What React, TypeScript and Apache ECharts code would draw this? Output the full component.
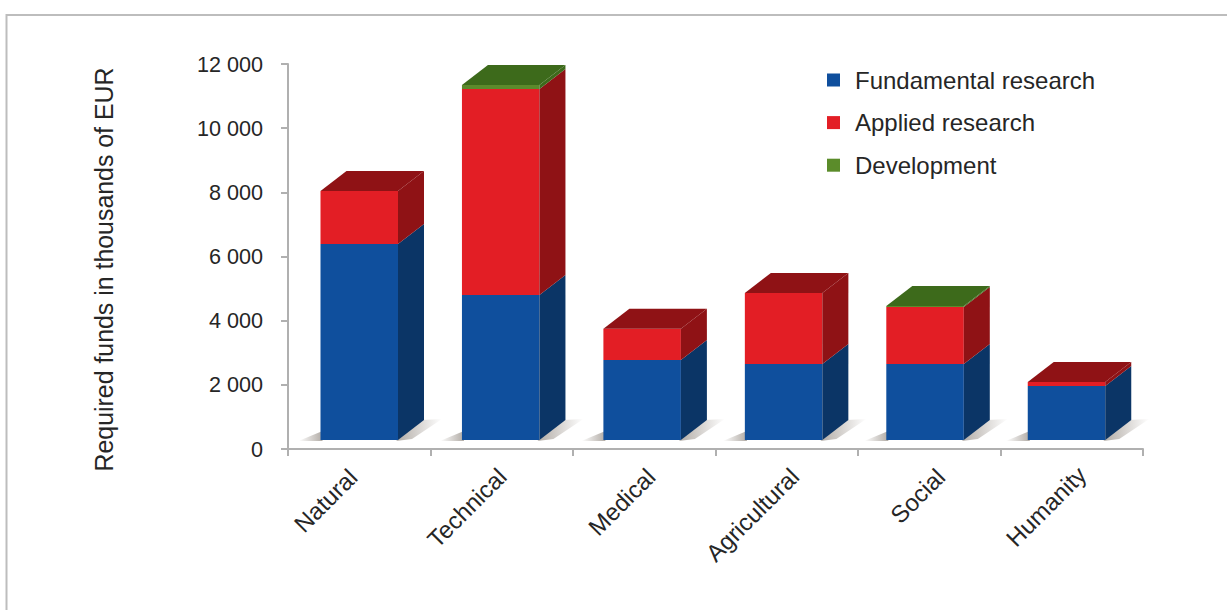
import React, { useEffect, useRef } from "react";
import * as echarts from "echarts";

const categories = ["Natural", "Technical", "Medical", "Agricultural", "Social", "Humanity"];
const fundamental = [6110, 4520, 2495, 2370, 2370, 1685];
const applied = [1650, 6420, 970, 2215, 1775, 125];
const development = [0, 125, 0, 0, 30, 0];
const seriesNames = ["Fundamental research", "Applied research", "Development"];
const yTicks = { min: 0, max: 12000, interval: 2000 };

const labelAlong = [-9.8, -4.5, -0.2, 0.85, 3, 3.65];
const labelLine = [2, 10.4, 19.6, 21, 26.6, 21.6];
const FRONT = ["#0f4f9d", "#e31e25", "#5c8a2c"];
const SIDE = ["#0b3566", "#8f1215", "#3d6a1b"];
const LEGEND = ["#0f4f9d", "#e31e25", "#5b8c2a"];
const BAR_W = 77.5;
const DX = 26;
const DY = 20;
const FLOOR = 9;
const DRIFT = 1.05;
const FONT = "Liberation Sans";
const TEXT = "#262626";

function buildData(values: number[], below: number[][], above: number[][]) {
  return values.map((v, i) => {
    const base = below.reduce((s, a) => s + a[i], 0);
    const isTop = above.every((a) => a[i] === 0) ? 1 : 0;
    return [i, base, base + v, isTop];
  });
}

function shadowFill(reverse: boolean) {
  const c0 = "rgba(125,115,105,0.6)";
  const c1 = "rgba(125,115,105,0)";
  return new echarts.graphic.LinearGradient(0, 0, 1, 0, [
    { offset: 0, color: reverse ? c1 : c0 },
    { offset: 1, color: reverse ? c0 : c1 },
  ]);
}

function makeRender(idx: number) {
  return (_p: any, api: any) => {
    const i = api.value(0);
    const [cx0, y0Raw] = api.coord([i, api.value(1)]);
    const [, y1Raw] = api.coord([i, api.value(2)]);
    const cx = cx0 - i * DRIFT;
    const isTop = api.value(3) === 1;
    const y0 = y0Raw - FLOOR;
    const y1 = y1Raw - FLOOR;
    const l = cx - BAR_W / 2;
    const r = cx + BAR_W / 2;
    const children: any[] = [];
    if (y0 - y1 <= 0) return { type: "group", children };
    if (idx === 0) {
      children.push(
        {
          type: "polygon",
          shape: { points: [[l - 22, y0 + 1], [l + 2, y0 + 1], [l + 2, y0 - 9]] },
          style: { fill: shadowFill(true) },
          silent: true,
        },
        {
          type: "polygon",
          shape: { points: [[r - 2, y0 + 1], [r + 14, y0 - 1], [r + DX + 18, y0 - DY - 1], [r + DX - 2, y0 - DY]] },
          style: { fill: shadowFill(false) },
          silent: true,
        }
      );
    }
    children.push(
      { type: "rect", shape: { x: l, y: y1, width: BAR_W, height: y0 - y1 }, style: { fill: FRONT[idx] } },
      {
        type: "polygon",
        shape: { points: [[r, y0], [r + DX, y0 - DY], [r + DX, y1 - DY], [r, y1]] },
        style: { fill: SIDE[idx] },
      }
    );
    if (isTop) {
      children.push({
        type: "polygon",
        shape: { points: [[l, y1], [l + DX, y1 - DY], [r + DX, y1 - DY], [r, y1]] },
        style: { fill: SIDE[idx] },
      });
    }
    return { type: "group", children };
  };
}

export default function App() {
  const ref = useRef<HTMLDivElement>(null);
  useEffect(() => {
    document.body.style.margin = "0";
    const chart = echarts.init(ref.current!, undefined, { renderer: "svg" });
    const dataSets = [
      buildData(fundamental, [], [applied, development]),
      buildData(applied, [fundamental], [development]),
      buildData(development, [fundamental, applied], []),
    ];
    chart.setOption({
      animation: false,
      backgroundColor: "#ffffff",
      textStyle: { fontFamily: FONT },
      grid: { left: 288, right: 84, top: 64, bottom: 161 },
      legend: {
        orient: "vertical",
        left: 827,
        top: 68,
        padding: 0,
        itemWidth: 13,
        itemHeight: 13,
        itemGap: 18.6,
        icon: "rect",
        data: seriesNames,
        selectedMode: false,
        textStyle: { fontSize: 24, color: TEXT, fontFamily: FONT, padding: [0, 0, 4, 10] },
      },
      xAxis: {
        type: "category",
        data: categories.map((value, i) => ({
          value,
          textStyle: {
            verticalAlign: "top",
            lineHeight: labelLine[i],
            padding: [0, -labelAlong[i], 0, 0],
          },
        })),
        axisLine: { lineStyle: { color: "#b0b0b0", width: 2 } },
        axisTick: { show: true, length: 7, alignWithLabel: false, lineStyle: { color: "#b0b0b0", width: 2 } },
        axisLabel: {
          rotate: 45,
          interval: 0,
          fontSize: 24,
          color: TEXT,
          fontFamily: FONT,
          margin: 16.6,
        },
      },
      yAxis: {
        type: "value",
        min: yTicks.min,
        max: yTicks.max,
        interval: yTicks.interval,
        name: "Required funds in thousands of EUR",
        nameLocation: "middle",
        nameGap: 172,
        nameTextStyle: { fontSize: 24.9, color: TEXT, fontFamily: FONT, padding: [0, 26, 0, 0] },
        splitLine: { show: false },
        axisLine: { show: true, lineStyle: { color: "#b0b0b0", width: 2 } },
        axisTick: { show: true, length: 7, lineStyle: { color: "#b0b0b0", width: 2 } },
        axisLabel: {
          fontSize: 21.6,
          color: TEXT,
          fontFamily: FONT,
          margin: 25,
          formatter: (v: number) => String(v).replace(/\B(?=(\d{3})+$)/g, " "),
        },
      },
      series: seriesNames.map((name, idx) => ({
        type: "custom",
        name,
        coordinateSystem: "cartesian2d",
        itemStyle: { color: LEGEND[idx] },
        renderItem: makeRender(idx),
        encode: { x: 0, y: [1, 2] },
        data: dataSets[idx],
        silent: true,
      })),
      graphic: [
        {
          type: "polyline",
          silent: true,
          shape: { points: [[6.5, 610], [6.5, 15], [1227, 15]] },
          style: { stroke: "#bdbdbd", lineWidth: 2, fill: "none" },
        },
      ],
    });
    return () => chart.dispose();
  }, []);
  return <div ref={ref} style={{ width: 1227, height: 610 }} />;
}
